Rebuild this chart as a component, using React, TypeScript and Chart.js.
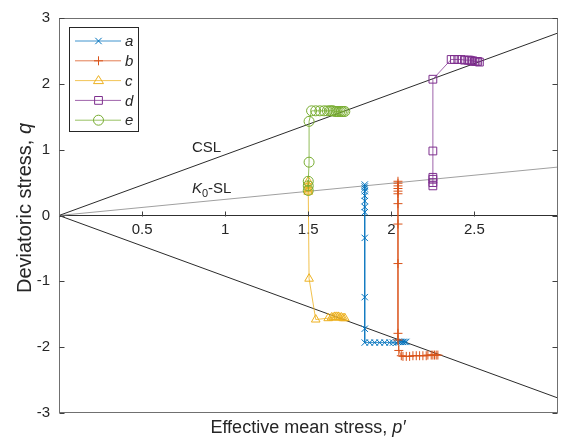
import React, { useEffect, useRef } from "react";
import { Chart, registerables } from "chart.js";

Chart.register(...registerables);

// ---------- data ----------
const xTickValues = [0.5, 1, 1.5, 2, 2.5];
const yTickValues = [-3, -2, -1, 0, 1, 2, 3];

const seriesNames = ["a", "b", "c", "d", "e"];

const aP = [1.84, 1.84, 1.84, 1.84, 1.84, 1.84, 1.84, 1.84, 1.84, 1.84, 1.84, 1.84, 1.87, 1.9, 1.93, 1.96, 1.99, 2.01, 2.03, 2.04, 2.05, 2.06, 2.07, 2.08, 2.09];
const aQ = [0.47, 0.44, 0.41, 0.37, 0.3, 0.22, 0.13, 0.05, -0.34, -1.24, -1.72, -1.93, -1.93, -1.93, -1.93, -1.93, -1.93, -1.93, -1.93, -1.92, -1.92, -1.92, -1.92, -1.92, -1.92];

const bP = [2.04, 2.04, 2.04, 2.04, 2.04, 2.04, 2.04, 2.04, 2.04, 2.04, 2.04, 2.045, 2.06, 2.07, 2.09, 2.11, 2.13, 2.15, 2.17, 2.19, 2.21, 2.22, 2.24, 2.25, 2.26, 2.27, 2.28];
const bQ = [0.52, 0.49, 0.45, 0.41, 0.37, 0.33, 0.18, -0.13, -0.73, -1.79, -1.89, -2.05, -2.13, -2.14, -2.14, -2.14, -2.13, -2.13, -2.13, -2.13, -2.13, -2.12, -2.12, -2.12, -2.12, -2.12, -2.12];

const cP = [1.5, 1.5, 1.5, 1.5, 1.5, 1.505, 1.545, 1.62, 1.64, 1.65, 1.66, 1.67, 1.68, 1.69, 1.7, 1.71, 1.72];
const cQ = [0.52, 0.46, 0.41, 0.38, 0.36, -0.96, -1.58, -1.56, -1.55, -1.55, -1.54, -1.54, -1.54, -1.55, -1.55, -1.56, -1.56];

const dP = [2.25, 2.25, 2.25, 2.25, 2.25, 2.25, 2.36, 2.38, 2.4, 2.42, 2.44, 2.46, 2.47, 2.48, 2.49, 2.5, 2.51, 2.52, 2.53];
const dQ = [0.45, 0.5, 0.55, 0.58, 0.98, 2.07, 2.37, 2.37, 2.37, 2.37, 2.36, 2.36, 2.36, 2.35, 2.35, 2.34, 2.34, 2.34, 2.33];

const eP = [1.5, 1.5, 1.5, 1.505, 1.505, 1.52, 1.545, 1.57, 1.595, 1.615, 1.63, 1.64, 1.65, 1.66, 1.67, 1.68, 1.69, 1.7, 1.71, 1.72];
const eQ = [0.38, 0.45, 0.52, 0.81, 1.43, 1.59, 1.59, 1.59, 1.59, 1.59, 1.59, 1.59, 1.59, 1.58, 1.58, 1.58, 1.58, 1.58, 1.58, 1.58];

// reference lines (end points)
const refP = [0, 3];
const cslCompQ = [0, 2.77];
const cslExtQ = [0, -2.77];
const k0Q = [0, 0.735];

// annotation anchors (data units)
const cslLabelPos = [0.8, 0.96];
const k0LabelPos = [0.8, 0.34];

const colors = ["#0072BD", "#D95319", "#EDB120", "#7E2F8E", "#77AC30"];
const lineColors = ["rgba(0,114,189,0.75)", "rgba(217,83,25,0.75)", "rgba(237,177,32,0.8)", "rgba(126,47,142,0.75)", "rgba(119,172,48,0.8)"];
const markers = ["crossRot", "cross", "triangle", "rect", "circle"];
const radii = [4.5, 4.5, 5, 5.5, 5];

const FONT = "'Liberation Sans', Arial, Helvetica, sans-serif";
const TEXT = "#262626";

function pts(p: number[], q: number[]) {
  return p.map((v, i) => ({ x: v, y: q[i] }));
}

function drawMarker(ctx: CanvasRenderingContext2D, style: string, x: number, y: number, r: number, color: string) {
  ctx.save();
  ctx.globalAlpha = 1;
  ctx.strokeStyle = color;
  ctx.lineWidth = 1;
  ctx.beginPath();
  if (style === "crossRot") {
    const o = r * Math.SQRT1_2;
    ctx.moveTo(x - o, y - o); ctx.lineTo(x + o, y + o);
    ctx.moveTo(x - o, y + o); ctx.lineTo(x + o, y - o);
  } else if (style === "cross") {
    ctx.moveTo(x - r, y); ctx.lineTo(x + r, y);
    ctx.moveTo(x, y - r); ctx.lineTo(x, y + r);
  } else if (style === "triangle") {
    ctx.moveTo(x, y - r);
    ctx.lineTo(x + r, y + r * 0.6);
    ctx.lineTo(x - r, y + r * 0.6);
    ctx.closePath();
  } else if (style === "rect") {
    const o = r * Math.SQRT1_2;
    ctx.rect(x - o, y - o, 2 * o, 2 * o);
  } else {
    ctx.arc(x, y, r, 0, Math.PI * 2);
  }
  ctx.stroke();
  ctx.restore();
}

const overlayPlugin = {
  id: "overlay",
  afterDraw(chart: any) {
    const { ctx, chartArea: ca, scales } = chart;
    const xs = scales.x;
    const ys = scales.y;
    ctx.save();

    // box
    const L = Math.round(ca.left) + 0.5;
    const T = Math.round(ca.top) + 0.5;
    const R = Math.round(ca.right) - 0.5;
    const B = Math.round(ca.bottom) - 0.5;
    ctx.strokeStyle = "#707070";
    ctx.lineWidth = 1;
    ctx.strokeRect(L, T, R - L, B - T);

    // y ticks (inward, both sides)
    ctx.beginPath();
    for (const v of yTickValues) {
      const py = Math.round(ys.getPixelForValue(v)) + 0.5;
      ctx.moveTo(L, py); ctx.lineTo(L + 5, py);
      ctx.moveTo(R, py); ctx.lineTo(R - 5, py);
    }
    // x ticks on origin axis
    const y0 = Math.round(ys.getPixelForValue(0)) + 0.5;
    for (const v of xTickValues) {
      const px = Math.round(xs.getPixelForValue(v)) + 0.5;
      ctx.moveTo(px, y0); ctx.lineTo(px, y0 - 5);
    }
    ctx.strokeStyle = "#404040";
    ctx.stroke();

    // annotations
    ctx.fillStyle = TEXT;
    ctx.textBaseline = "alphabetic";
    ctx.textAlign = "left";
    ctx.font = `15px ${FONT}`;
    const cx = xs.getPixelForValue(cslLabelPos[0]);
    const cy = ys.getPixelForValue(cslLabelPos[1]);
    ctx.fillText("CSL", cx, cy);

    const kx = xs.getPixelForValue(k0LabelPos[0]);
    const ky = ys.getPixelForValue(k0LabelPos[1]);
    ctx.font = `italic 15px ${FONT}`;
    ctx.fillText("K", kx, ky);
    let w = ctx.measureText("K").width;
    ctx.font = `11px ${FONT}`;
    ctx.fillText("0", kx + w, ky + 4);
    w += ctx.measureText("0").width;
    ctx.font = `15px ${FONT}`;
    ctx.fillText("-SL", kx + w, ky);

    // legend
    const lx = 69.5, ly = 27.5, lw = 69, lh = 104;
    ctx.fillStyle = "#ffffff";
    ctx.fillRect(lx, ly, lw, lh);
    ctx.strokeStyle = "#262626";
    ctx.lineWidth = 1;
    ctx.strokeRect(lx, ly, lw, lh);
    for (let i = 0; i < seriesNames.length; i++) {
      const ry = 41 + i * 19.8;
      ctx.save();
      ctx.beginPath();
      ctx.strokeStyle = colors[i];
      ctx.globalAlpha = 0.75;
      ctx.lineWidth = 1;
      ctx.moveTo(75, ry);
      ctx.lineTo(121, ry);
      ctx.stroke();
      ctx.restore();
      drawMarker(ctx, markers[i], 98.5, ry, radii[i], colors[i]);
      ctx.fillStyle = TEXT;
      ctx.font = `italic 15px ${FONT}`;
      ctx.textBaseline = "middle";
      ctx.fillText(seriesNames[i], 125, ry + 1);
    }

    // axis titles
    ctx.fillStyle = TEXT;
    ctx.textBaseline = "middle";
    ctx.textAlign = "left";
    const t1 = "Effective mean stress, ";
    ctx.font = `18px ${FONT}`;
    const w1 = ctx.measureText(t1).width;
    ctx.font = `italic 18px ${FONT}`;
    const w2 = ctx.measureText("p\u2032").width;
    const xc = 308;
    const startX = xc - (w1 + w2) / 2;
    ctx.font = `18px ${FONT}`;
    ctx.fillText(t1, startX, 428);
    ctx.font = `italic 18px ${FONT}`;
    ctx.fillText("p\u2032", startX + w1, 428);

    ctx.save();
    ctx.translate(25, 208);
    ctx.rotate(-Math.PI / 2);
    const t3 = "Deviatoric stress, ";
    ctx.font = `20px ${FONT}`;
    const w3 = ctx.measureText(t3).width;
    ctx.font = `italic 20px ${FONT}`;
    const w4 = ctx.measureText("q").width;
    const s3 = -(w3 + w4) / 2;
    ctx.font = `20px ${FONT}`;
    ctx.fillText(t3, s3, 0);
    ctx.font = `italic 20px ${FONT}`;
    ctx.fillText("q", s3 + w3, 0);
    ctx.restore();

    ctx.restore();
  },
};

export default function App() {
  const ref = useRef<HTMLCanvasElement | null>(null);

  useEffect(() => {
    if (!ref.current) return;
    const series = [pts(aP, aQ), pts(bP, bQ), pts(cP, cQ), pts(dP, dQ), pts(eP, eQ)];
    const dataSets: any[] = series.map((d, i) => ({
      label: seriesNames[i],
      data: d,
      showLine: true,
      borderColor: lineColors[i],
      borderWidth: 1,
      pointStyle: markers[i],
      pointRadius: radii[i],
      pointBorderColor: colors[i],
      pointBackgroundColor: "rgba(0,0,0,0)",
      pointBorderWidth: 1,
      order: 5 - i,
    }));
    const refLine = (q: number[], color: string, label: string) => ({
      label,
      data: pts(refP, q),
      showLine: true,
      borderColor: color,
      borderWidth: 1,
      pointRadius: 0,
      order: 10,
    });
    dataSets.push(refLine(cslCompQ, "#2b2b2b", "CSL"));
    dataSets.push(refLine(cslExtQ, "#2b2b2b", "CSL-e"));
    dataSets.push(refLine(k0Q, "#a0a0a0", "K0-SL"));

    const chart = new Chart(ref.current, {
      type: "scatter",
      data: { datasets: dataSets },
      plugins: [overlayPlugin],
      options: {
        responsive: false,
        animation: false,
        layout: { padding: { top: 17, right: 3, bottom: 26, left: 0 } },
        plugins: { legend: { display: false }, tooltip: { enabled: false } },
        scales: {
          x: {
            type: "linear",
            min: 0,
            max: 3,
            position: { y: 0 } as any,
            afterBuildTicks: (s: any) => {
              s.ticks = xTickValues.map((v) => ({ value: v }));
            },
            ticks: {
              font: { family: FONT, size: 15 },
              color: TEXT,
              padding: 5,
              autoSkip: false,
              maxRotation: 0,
              callback: (v: any) => String(v),
            },
            grid: { display: false, drawTicks: false },
            border: { display: true, color: "#303030", width: 1 },
          },
          y: {
            type: "linear",
            min: -3,
            max: 3,
            position: "left",
            afterBuildTicks: (s: any) => {
              s.ticks = yTickValues.map((v) => ({ value: v }));
            },
            afterFit: (s: any) => {
              s.width = 59;
            },
            ticks: {
              font: { family: FONT, size: 15 },
              color: TEXT,
              padding: 9,
              callback: (v: any) => String(v),
            },
            grid: { display: false, drawTicks: false },
            border: { display: false },
          },
        },
      },
    });
    return () => chart.destroy();
  }, []);

  return (
    <div style={{ position: "fixed", left: 0, top: 0, width: 564, height: 439, background: "#fff" }}>
      <canvas ref={ref} width={564} height={439} style={{ display: "block", width: 564, height: 439 }} />
    </div>
  );
}
